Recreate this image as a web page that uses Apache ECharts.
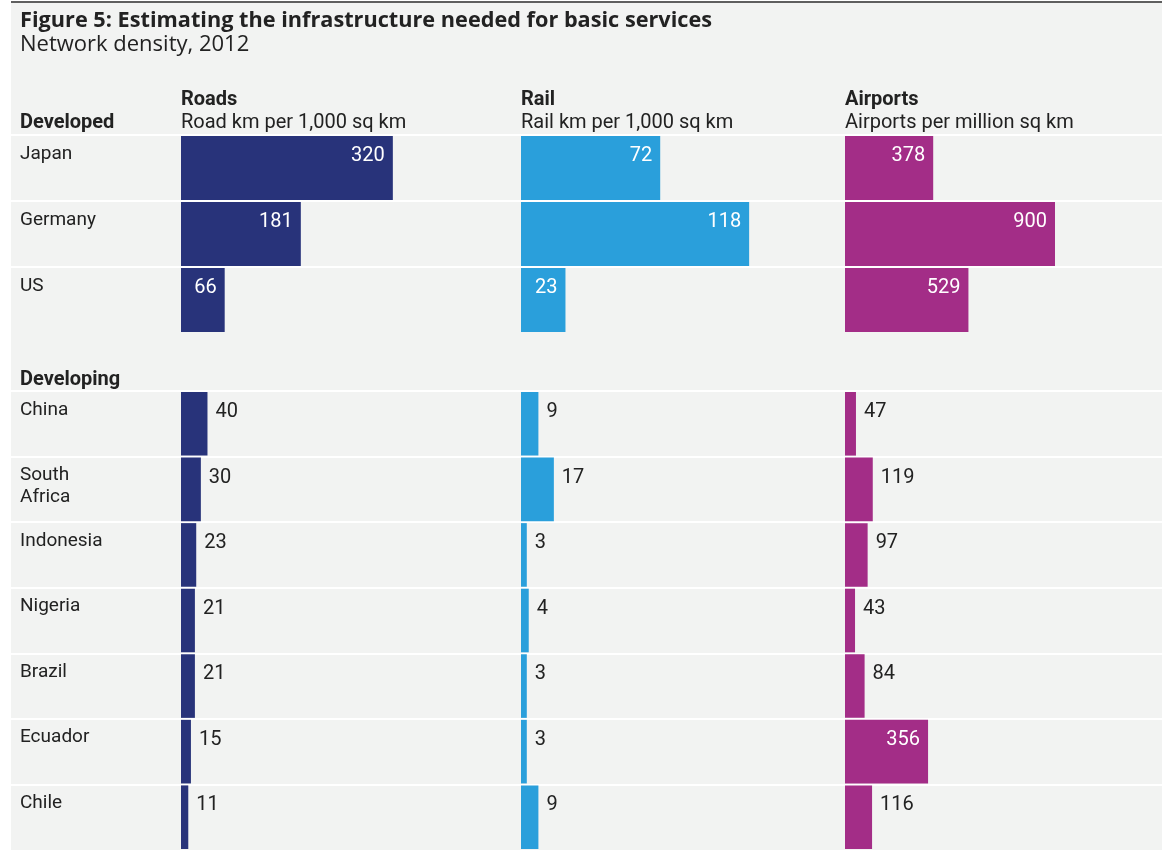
<!DOCTYPE html>
<html>
<head>
<meta charset="utf-8">
<title>Network density, 2012</title>
<script src="https://cdn.jsdelivr.net/npm/echarts@6/dist/echarts.min.js"></script>
<style>
  html, body { margin: 0; padding: 0; background: #fff; }
  #panel { position: absolute; left: 11px; top: 1px; width: 1151px; height: 848px; background: #f2f3f2; border-top: 2px solid #5f5f5f; }
  #chart { position: absolute; left: 0; top: 0; width: 1168px; height: 850px; }
</style>
</head>
<body>
<div id="panel"></div>
<div id="chart"></div>
<script>
// 国家
const developed = ['Japan', 'Germany', 'US']
const developing = ['China', 'South Africa', 'Indonesia', 'Nigeria', 'Brazil', 'Ecuador', 'Chile']

// 数值
const roadsDeveloped = [320, 181, 66]
const roadsDeveloping = [40, 30, 23, 21, 21, 15, 11]
const railDeveloped = [72, 118, 23]
const railDeveloping = [9, 17, 3, 4, 3, 3, 9]
const airportsDeveloped = [378, 900, 529]
const airportsDeveloping = [47, 119, 97, 43, 84, 356, 116]

const font = 'Roboto, "Noto Sans", sans-serif'
const wideFont = '"Open Sans", Roboto, sans-serif'
const textColor = '#222'

// 三列的位置和颜色
const columns = [
  { name: 'Roads', unit: 'Road km per 1,000 sq km', left: 181, width: 331, max: 500, color: '#28337a', data: [roadsDeveloped, roadsDeveloping] },
  { name: 'Rail', unit: 'Rail km per 1,000 sq km', left: 521, width: 290, max: 150, color: '#2a9fdb', data: [railDeveloped, railDeveloping] },
  { name: 'Airports', unit: 'Airports per million sq km', left: 845, width: 280, max: 1200, color: '#a32d87', data: [airportsDeveloped, airportsDeveloping] }
]
const sections = [
  { cats: developed, top: 135, height: 198 },
  { cats: developing, top: 391, height: 461 }
]

const grid = []
const xAxis = []
const yAxis = []
const series = []

// 标签列 + 分隔线
sections.forEach((s, i) => {
  grid.push({ left: 11, right: 6, top: s.top, height: s.height })
  xAxis.push({ type: 'value', gridIndex: i, min: 0, max: 1, show: false })
  yAxis.push({
    type: 'category',
    gridIndex: i,
    inverse: true,
    data: s.cats,
    axisLine: { show: false },
    axisTick: { show: false },
    splitLine: { show: true, interval: 0, showMinLine: true, showMaxLine: false, lineStyle: { color: '#ffffff', width: 2 } },
    axisLabel: {
      inside: true,
      interval: 0,
      hideOverlap: false,
      margin: 9,
      verticalAlign: 'middle',
      // 文字贴在每行顶部：下面补一行空白把文字往上推
      formatter: name => {
        const lines = name.split(' ')
        const gap = lines.length > 1 ? 'g2' : 'g1'
        return lines.map(l => '{t|' + l + '}').join('\n') + '\n{' + gap + '| }'
      },
      rich: {
        t: { fontFamily: font, fontSize: 19, lineHeight: 22, color: textColor },
        g1: { fontSize: 10, lineHeight: 28 },
        g2: { fontSize: 6, lineHeight: 6 }
      }
    }
  })
})

const labelInside = { show: true, position: ['100%', 10], align: 'right', verticalAlign: 'top', offset: [-8, 0], color: '#fff', fontFamily: font, fontSize: 20 }
const labelOutside = { show: true, position: ['100%', 10], align: 'left', verticalAlign: 'top', offset: [8, 0], color: textColor, fontFamily: font, fontSize: 20 }

columns.forEach(col => {
  const pxPerUnit = col.width / col.max
  sections.forEach((s, si) => {
    const idx = grid.length
    grid.push({ left: col.left, width: col.width, top: s.top, height: s.height })
    xAxis.push({ type: 'value', gridIndex: idx, min: 0, max: col.max, show: false })
    yAxis.push({ type: 'category', gridIndex: idx, inverse: true, data: s.cats, show: false })
    series.push({
      type: 'bar',
      name: col.name,
      xAxisIndex: idx,
      yAxisIndex: idx,
      barCategoryGap: '3%',
      itemStyle: { color: col.color },
      data: col.data[si].map(v => ({
        value: v,
        label: v * pxPerUnit >= 40 ? labelInside : labelOutside
      }))
    })
  })
})

const headStyle = { fontFamily: font, fontSize: 20, fontWeight: 'bold', color: textColor, lineHeight: 22 }
const subStyle = { fontFamily: font, fontSize: 20, color: textColor, lineHeight: 22 }

const title = [
  {
    left: 20, top: 9, padding: 0, itemGap: 0,
    text: 'Figure 5: Estimating the infrastructure needed for basic services',
    subtext: 'Network density, 2012',
    textStyle: { fontFamily: wideFont, fontSize: 21.7, fontWeight: 'bold', color: textColor, lineHeight: 24 },
    subtextStyle: { fontFamily: wideFont, fontSize: 22, color: textColor, lineHeight: 24 }
  },
  { left: 20, top: 112, padding: 0, text: 'Developed', textStyle: headStyle },
  { left: 20, top: 369, padding: 0, text: 'Developing', textStyle: headStyle }
]
columns.forEach(col => {
  title.push({ left: col.left, top: 89, padding: 0, itemGap: 1, text: col.name, subtext: col.unit, textStyle: headStyle, subtextStyle: subStyle })
})

const chart = echarts.init(document.getElementById('chart'), null, { renderer: 'canvas' })
chart.setOption({
  backgroundColor: 'transparent',
  animation: false,
  title: title,
  grid: grid,
  xAxis: xAxis,
  yAxis: yAxis,
  series: series
})
</script>
</body>
</html>
